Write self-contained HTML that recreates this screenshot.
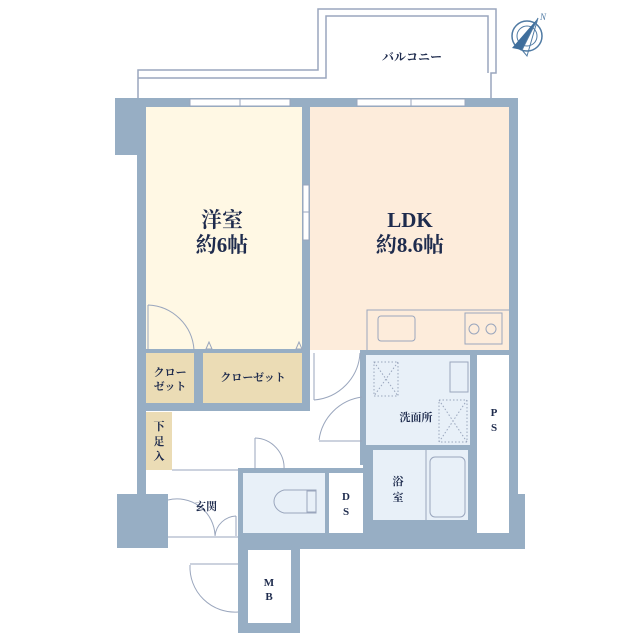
<!DOCTYPE html>
<html><head><meta charset="utf-8"><style>
html,body{margin:0;padding:0;background:#fff;width:640px;height:640px;overflow:hidden}
svg{display:block}
.t{font-family:"Liberation Serif","Noto Serif CJK SC","Noto Sans CJK JP",serif;fill:#1e2b4d;font-weight:bold}
</style></head><body>
<svg width="640" height="640" viewBox="0 0 640 640" xmlns="http://www.w3.org/2000/svg">
<!-- balcony -->
<g fill="none" stroke="#9aa6bd" stroke-width="1.5">
<polyline points="138,98 138,70 318,70 318,9 496,9 496,73 491,73 491,98"/>
<polyline points="138,78 326,78 326,16 488,16 488,73"/>
</g>
<text x="412" y="61" class="t" font-size="12" text-anchor="middle" font-weight="normal">バルコニー</text>
<!-- compass -->
<g transform="translate(527,36)">
<circle r="15" fill="none" stroke="#4f7aa3" stroke-width="1.5"/>
<circle r="10" fill="none" stroke="#4f7aa3" stroke-width="1"/>
<polygon points="11,-18 -5,14 -15,12" fill="#3f6e9c"/>
<polygon points="11,-18 -5,14 0,20" fill="none" stroke="#4f7aa3" stroke-width="1"/>
<text x="13" y="-16" font-size="9" fill="#4f7aa3" font-family="Liberation Serif,serif" font-style="italic">N</text>
</g>
<!-- wall mass -->
<g fill="#97aec4">
<rect x="115" y="98" width="403" height="9"/>
<rect x="115" y="98" width="46" height="57"/>
<rect x="137" y="98" width="9" height="450"/>
<rect x="488" y="98" width="30" height="54"/>
<rect x="509" y="98" width="9" height="450"/>
<rect x="302" y="98" width="8" height="312"/>
<rect x="117" y="494" width="51" height="54"/>
<rect x="492" y="494" width="33" height="55"/>
<rect x="238" y="533" width="287" height="16"/>
<rect x="238" y="468" width="135" height="5"/>
<rect x="238" y="468" width="5" height="80"/>
<rect x="325" y="468" width="4" height="70"/>
<rect x="363" y="445" width="10" height="90"/>
<rect x="360" y="350" width="6" height="115"/>
<rect x="360" y="350" width="150" height="5"/>
<rect x="470" y="350" width="7" height="190"/>
<rect x="146" y="403" width="164" height="8"/>
<rect x="146" y="349" width="164" height="4"/>
<rect x="194" y="349" width="9" height="58"/>
<rect x="238" y="549" width="62" height="84"/>
<rect x="370" y="445" width="100" height="5"/>
<rect x="468" y="445" width="4" height="80"/>
<rect x="373" y="520" width="100" height="15"/>
</g>
<!-- rooms -->
<rect x="146" y="107" width="156" height="242" fill="#fff8e4"/>
<rect x="310" y="107" width="199" height="243" fill="#fdecdb"/>
<rect x="146" y="353" width="48" height="50" fill="#ebdcb5"/>
<rect x="203" y="353" width="99" height="50" fill="#ebdcb5"/>
<rect x="146" y="412" width="26" height="58" fill="#ebdcb5"/>
<rect x="310" y="353" width="50" height="57" fill="#fff"/>
<rect x="172" y="411" width="188" height="57" fill="#fff"/>
<rect x="146" y="470" width="92" height="24" fill="#fff"/>
<rect x="168" y="494" width="70" height="45" fill="#fff"/>
<rect x="366" y="355" width="104" height="90" fill="#e8f0f8"/>
<rect x="477" y="355" width="32" height="178" fill="#fff"/>
<rect x="373" y="450" width="95" height="70" fill="#e8f0f8"/>
<rect x="243" y="473" width="82" height="60" fill="#e8f0f8"/>
<rect x="329" y="473" width="34" height="60" fill="#fff"/>
<rect x="248" y="550" width="43" height="73" fill="#fff"/>
<!-- windows -->
<g fill="#fff" stroke="#9aa6bd" stroke-width="1">
<rect x="190" y="99" width="100" height="7"/>
<rect x="357" y="99" width="108" height="7"/>
<rect x="303" y="185" width="6" height="55"/>
</g>
<g stroke="#9aa6bd" stroke-width="1">
<line x1="240" y1="99" x2="240" y2="106"/><line x1="411" y1="99" x2="411" y2="106"/>
<line x1="303" y1="212" x2="309" y2="212"/>
</g>
<!-- kitchen -->
<g fill="none" stroke="#9aa6bd" stroke-width="1">
<polyline points="367,350 367,310 509,310"/>
<rect x="378" y="316" width="37" height="25" rx="3"/>
<rect x="465" y="313" width="37" height="31"/>
<circle cx="474" cy="329" r="5"/><circle cx="491" cy="329" r="5"/>
<!-- doors -->
<path d="M148,305 A48,48 0 0 1 194,350"/><line x1="148" y1="305" x2="148" y2="350"/>
<path d="M360,353 A50,50 0 0 1 314,400"/><line x1="314" y1="353" x2="314" y2="400"/>
<path d="M362,397 A50,50 0 0 0 319,440"/><line x1="319" y1="441" x2="362" y2="441"/>
<path d="M255,438 A30,30 0 0 1 284,470"/><line x1="255" y1="438" x2="255" y2="470"/>
<path d="M168,500 A38,38 0 0 1 215,535"/>
<path d="M236,516 A22,22 0 0 0 215,536"/><line x1="236" y1="516" x2="236" y2="536"/>
<line x1="168" y1="537" x2="238" y2="537"/>
<path d="M190,565 A45,45 0 0 0 238,612"/><line x1="190" y1="564" x2="238" y2="564"/>
<line x1="172" y1="470" x2="238" y2="470"/>
<rect x="430" y="457" width="35" height="60" rx="5"/>
<line x1="426" y1="450" x2="426" y2="520"/>
<path d="M316,490 L284,490 A14,12 0 0 0 284,513 L316,513 Z"/>
<rect x="307" y="491" width="9" height="21"/>
<rect x="450" y="362" width="18" height="30"/>
</g>
<polygon points="206,349 209,342 212,349" fill="none" stroke="#9aa6bd"/>
<polygon points="296,349 299,342 302,349" fill="none" stroke="#9aa6bd"/>
<g fill="none" stroke="#9aa6bd" stroke-width="1" stroke-dasharray="1.5,2">
<rect x="374" y="362" width="24" height="34"/><path d="M374,362 L398,396 M398,362 L374,396"/>
<rect x="439" y="400" width="28" height="42"/><path d="M439,400 L467,442 M467,400 L439,442"/>
</g>
<!-- labels -->
<text x="222" y="227" class="t" font-size="21" text-anchor="middle">洋室</text>
<text x="222" y="252" class="t" font-size="21" text-anchor="middle">約6帖</text>
<text x="410" y="227" class="t" font-size="21" text-anchor="middle">LDK</text>
<text x="410" y="252" class="t" font-size="21" text-anchor="middle">約8.6帖</text>
<g class="t" font-size="11" text-anchor="middle">
<text x="170" y="376">クロー</text><text x="170" y="390">ゼット</text>
<text x="253" y="381">クローゼット</text>
<text x="416" y="421">洗面所</text>
<text x="159" y="430">下</text><text x="159" y="445">足</text><text x="159" y="460">入</text>
<text x="206" y="510">玄関</text>
<text x="398" y="485">浴</text><text x="398" y="501">室</text>
<text x="346" y="500">D</text><text x="346" y="515">S</text>
<text x="494" y="416">P</text><text x="494" y="431">S</text>
<text x="269" y="586">M</text><text x="269" y="600">B</text>
</g>
</svg>
</body></html>
